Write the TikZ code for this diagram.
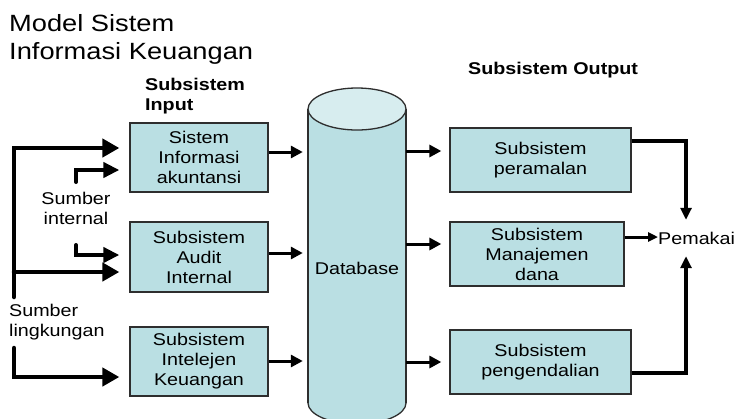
\documentclass[tikz,border=0pt]{standalone}
\usepackage{fontspec}
\setmainfont{Liberation Sans}[FakeStretch=1.16]
\usetikzlibrary{arrows.meta}
\definecolor{boxfill}{HTML}{BADFE3}
\definecolor{topfill}{HTML}{D7EDEF}
\definecolor{edge}{HTML}{2E2E2E}
\newcommand\bxfont{\fontsize{17}{20}\selectfont}
\begin{document}
\begin{tikzpicture}[x=1pt,y=-1pt,
  box/.style={draw=edge, line width=1.3pt, fill=boxfill, inner sep=0pt, align=center, font=\bxfont},
  lbl/.style={font=\bxfont, inner sep=0pt},
  bigarr/.style={line width=4.5pt, line cap=round, -{Triangle[length=17pt,width=18pt]}, shorten >=10pt},
  midarr/.style={line width=4pt, line cap=round, -{Triangle[length=16pt,width=15pt]}, shorten >=10pt},
  dbarr/.style={line width=3pt, -{Triangle[length=12pt,width=12pt]}},
  outarr/.style={line width=4pt, -{Triangle[length=12pt,width=11pt]}},
  pmarr/.style={line width=3pt, -{Triangle[length=10pt,width=9pt]}}]
\useasboundingbox (0,0) rectangle (735,418);
\clip (0,0) rectangle (735,418);

% title and headings
\node[font=\fontsize{23.5}{28}\selectfont, align=left, anchor=north west, inner sep=0pt] (title) at (9,14) {Model Sistem\\Informasi Keuangan};
\node[lbl, font=\bxfont\bfseries, align=left, anchor=north west] (hin) at (145,77.5) {Subsistem\\Input};
\node[lbl, font=\bxfont\bfseries, anchor=north west] (hout) at (468,62) {Subsistem Output};

% database cylinder
\fill[boxfill] (308,109) rectangle (406,403);
\fill[boxfill] (357,403) ellipse [x radius=49pt, y radius=21pt];
\draw[edge, line width=1.3pt] (308,109) -- (308,403);
\draw[edge, line width=1.3pt] (406,109) -- (406,403);
\begin{scope}
  \clip (300,403) rectangle (420,440);
  \draw[edge, line width=1.3pt] (357,403) ellipse [x radius=49pt, y radius=21pt];
\end{scope}
\draw[edge, line width=1.3pt, fill=topfill] (357,109) ellipse [x radius=49pt, y radius=21pt];
\node[lbl, minimum width=98pt, minimum height=300pt] (db) at (357,268) {Database};

% input boxes
\node[box, minimum width=138pt, minimum height=69pt] (b1) at (199,157.5) {Sistem\\Informasi\\akuntansi};
\node[box, minimum width=138pt, minimum height=70pt] (b2) at (199,257) {Subsistem\\Audit\\Internal};
\node[box, minimum width=138pt, minimum height=69pt] (b3) at (199,361.5) {Subsistem\\Intelejen\\Keuangan};

% output boxes
\node[box, minimum width=181pt, minimum height=64pt] (o1) at (540.5,160) {Subsistem\\peramalan};
\node[box, minimum width=174pt, minimum height=64pt] (o2) at (537,254) {Subsistem\\Manajemen\\dana};
\node[box, minimum width=181pt, minimum height=64pt] (o3) at (540.5,362) {Subsistem\\pengendalian};

\node[lbl, minimum height=36pt, anchor=west] (pm) at (658,238) {Pemakai};

% side labels
\node[lbl, align=center] (si) at (76,208) {Sumber\\internal};
\node[lbl, align=left, anchor=west] (sl) at (9,322) {Sumber\\lingkungan};

% left feeds
\coordinate (bt) at (14,148);
\coordinate (bb) at (14,297);
\coordinate (bm) at (14,272);
\coordinate (i1) at (76,182);
\coordinate (i2) at (76,245);
\coordinate (l1) at (14,348);
\draw[bigarr] (bb) -- (bt) -- (b1.west |- bt);
\draw[bigarr] (bm) -- (b2.west |- bm);
\draw[midarr] (i1) |- (b1.west |- 0,170);
\draw[midarr] (i2) |- (b2.west |- 0,255);
\draw[bigarr] (l1) |- (b3.west |- 0,377);

% to database
\draw[dbarr, shorten >=5pt] (b1.east |- 0,152) -- (db.west |- 0,152);
\draw[dbarr, shorten >=5pt] (b2.east |- 0,253) -- (db.west |- 0,253);
\draw[dbarr, shorten >=5pt] (b3.east |- 0,361) -- (db.west |- 0,361);

% from database
\draw[dbarr, shorten >=8pt] (db.east |- 0,151) -- (o1.west |- 0,151);
\draw[dbarr, shorten >=8pt] (db.east |- 0,244) -- (o2.west |- 0,244);
\draw[dbarr, shorten >=8pt] (db.east |- 0,362) -- (o3.west |- 0,362);

% to user
\draw[outarr] (o1.east |- 0,141) -| (pm.north -| 686,0);
\draw[outarr] (o3.east |- 0,373) -| (pm.south -| 686,0);
\draw[pmarr] (o2.east |- 0,237) -- (pm.west |- 0,237);
\end{tikzpicture}
\end{document}
